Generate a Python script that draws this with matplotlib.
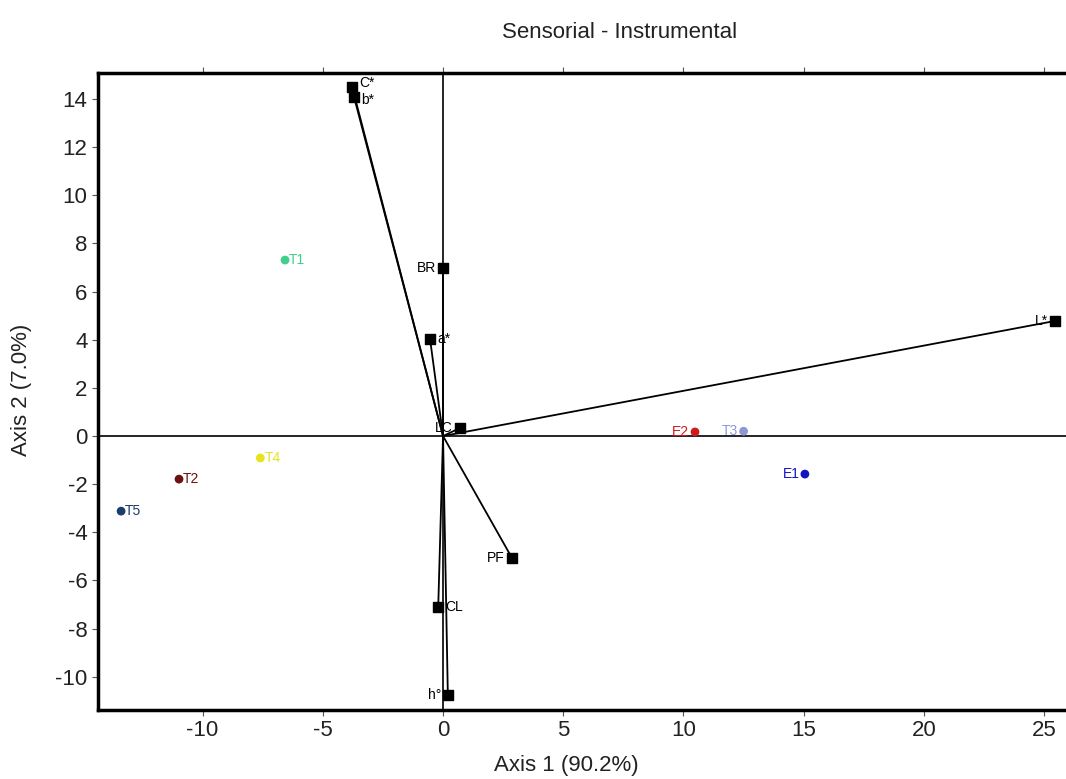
import matplotlib.pyplot as plt

plt.rcParams['font.family'] = ['Liberation Sans', 'DejaVu Sans']
plt.rcParams['axes.unicode_minus'] = False

# variables (vectors from the origin)
var_names = ['C*', 'b*', 'BR', 'a*', 'L*', 'LC', 'PF', 'CL', 'h°']
var_x = [-3.78, -3.70, 0.0, -0.54, 25.45, 0.70, 2.87, -0.20, 0.20]
var_y = [14.50, 14.08, 6.98, 4.03, 4.78, 0.33, -5.07, -7.10, -10.76]
var_side = ['r', 'r', 'l', 'r', 'l', 'l', 'l', 'r', 'l']

# samples
obs_names = ['T1', 'T4', 'T2', 'T5', 'E2', 'T3', 'E1']
obs_x = [-6.57, -7.60, -10.98, -13.39, 10.48, 12.50, 15.05]
obs_y = [7.31, -0.91, -1.79, -3.12, 0.17, 0.20, -1.58]
obs_colors = ['#3fd08c', '#e4e41c', '#6e1010', '#1c3c6c', '#cc1c1c', '#8c9ad4', '#1414c0']
obs_side = ['r', 'r', 'r', 'r', 'l', 'l', 'l']

fig = plt.figure(figsize=(10.66, 7.79), dpi=100)
ax = fig.add_axes([98 / 1066, 1 - 710 / 779, 1044 / 1066, 637 / 779])

ax.axhline(0, color='black', lw=1.2, zorder=1)
ax.axvline(0, color='black', lw=1.2, zorder=1)

for x, y in zip(var_x, var_y):
    ax.plot([0, x], [0, y], color='black', lw=1.3, zorder=2)
ax.scatter(var_x, var_y, marker='s', s=55, color='black', zorder=3)
for n, x, y, s in zip(var_names, var_x, var_y, var_side):
    dy = 3 if n == 'C*' else (-2 if n == 'b*' else 0)
    if s == 'r':
        ax.annotate(n, (x, y), xytext=(5, dy), textcoords='offset points',
                    ha='left', va='center', fontsize=10)
    else:
        ax.annotate(n, (x, y), xytext=(-5, dy), textcoords='offset points',
                    ha='right', va='center', fontsize=10)

ax.scatter(obs_x, obs_y, s=28, c=obs_colors, zorder=3)
for n, x, y, c, s in zip(obs_names, obs_x, obs_y, obs_colors, obs_side):
    if s == 'r':
        ax.annotate(n, (x, y), xytext=(3, 0), textcoords='offset points',
                    ha='left', va='center', fontsize=10, color=c)
    else:
        ax.annotate(n, (x, y), xytext=(-4, 0), textcoords='offset points',
                    ha='right', va='center', fontsize=10, color=c)

ax.set_xlim(-14.35, 29.07)
ax.set_ylim(-11.38, 15.08)
ax.set_xticks([-10, -5, 0, 5, 10, 15, 20, 25])
ax.set_yticks(range(-10, 15, 2))
ax.tick_params(axis='both', labelsize=16, length=4, width=0.8, color='#555555',
               labelcolor='#222222', top=True, labeltop=False)
for sp in ax.spines.values():
    sp.set_linewidth(2.5)

fig.text(620 / 1066, 1 - 33 / 779, 'Sensorial - Instrumental', ha='center', va='center',
         fontsize=16, color='#222222')
fig.text(566 / 1066, 1 - 765 / 779, 'Axis 1 (90.2%)', ha='center', va='center',
         fontsize=16, color='#222222')
fig.text(22 / 1066, 1 - 390 / 779, 'Axis 2 (7.0%)', ha='center', va='center',
         fontsize=16, rotation=90, color='#222222')

fig.savefig('out.png', dpi=100)
